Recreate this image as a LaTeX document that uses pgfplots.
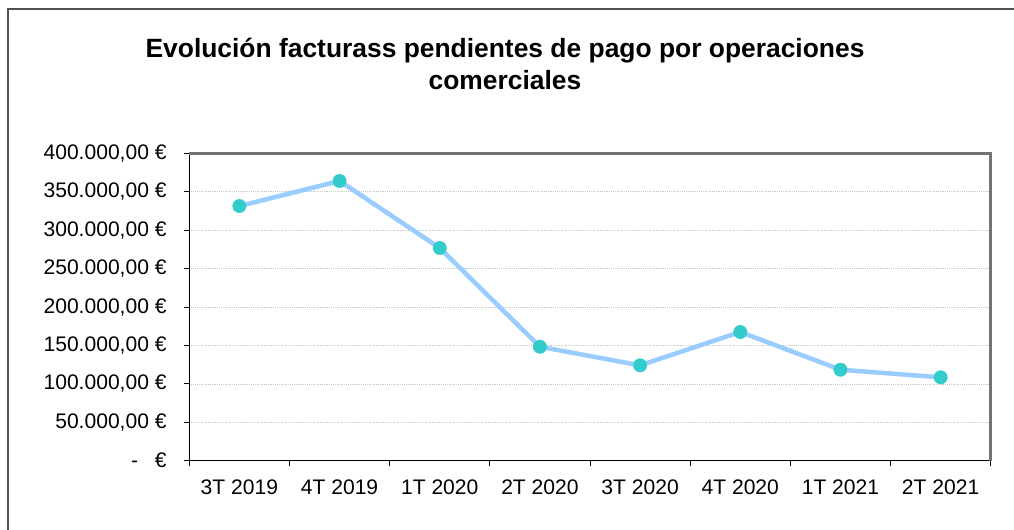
\documentclass[border=0pt]{standalone}
\usepackage{pgfplots}
\pgfplotsset{compat=1.18}
\usepackage{fontspec}
\setmainfont{Liberation Sans}
\definecolor{linec}{HTML}{99CCFF}
\definecolor{markc}{HTML}{33CCCC}
\definecolor{framec}{HTML}{505050}
\begin{document}
\begin{tikzpicture}
\path[use as bounding box] (0,0) rectangle (760.5pt,-396.75pt);
\draw[framec, line width=1pt] (6pt,-400pt) -- (6pt,-6.75pt) -- (765pt,-6.75pt);
\node[font=\bfseries\fontsize{19.8}{24}\selectfont, align=center] at (378.75pt,-48pt) {Evolución facturass pendientes de pago por operaciones\\comerciales};
\begin{axis}[
  at={(141.98pt,-345.53pt)}, anchor=south west,
  scale only axis, width=601.05pt, height=230.55pt,
  xmin=-0.5, xmax=7.5, ymin=0, ymax=400000,
  axis lines*=left,
  axis line style={black, line width=0.9pt},
  tick align=outside,
  major tick length=4pt,
  tick style={black, line width=0.6pt},
  xtick={-0.5,0.5,...,7.5},
  x tick label as interval=true,
  xticklabels={3T 2019,4T 2019,1T 2020,2T 2020,3T 2020,4T 2020,1T 2021,2T 2021},
  ytick={0,50000,...,400000},
  yticklabels={{-\hspace{0.8em}€},{50.000,00 €},{100.000,00 €},{150.000,00 €},{200.000,00 €},{250.000,00 €},{300.000,00 €},{350.000,00 €},{400.000,00 €}},
  ticklabel style={font=\fontsize{15.8}{18}\selectfont},
  yticklabel style={xshift=-9.5pt},
  xticklabel style={yshift=-6.5pt},
  ymajorgrids=true,
  grid style={densely dotted, gray!45, line width=0.5pt},
  scaled y ticks=false,
  clip=false,
]
\draw[gray!90!black, line width=2pt] (rel axis cs:0,1) -- (rel axis cs:1,1) -- (rel axis cs:1,0);
\addplot[linec, line width=3.4pt, mark=*, mark size=5pt, mark options={solid, draw=markc, fill=markc, line width=0.4pt}]
  coordinates {(0,331400) (1,364000) (2,276800) (3,148300) (4,124100) (5,167500) (6,118400) (7,108500)};
\end{axis}
\end{tikzpicture}
\end{document}
